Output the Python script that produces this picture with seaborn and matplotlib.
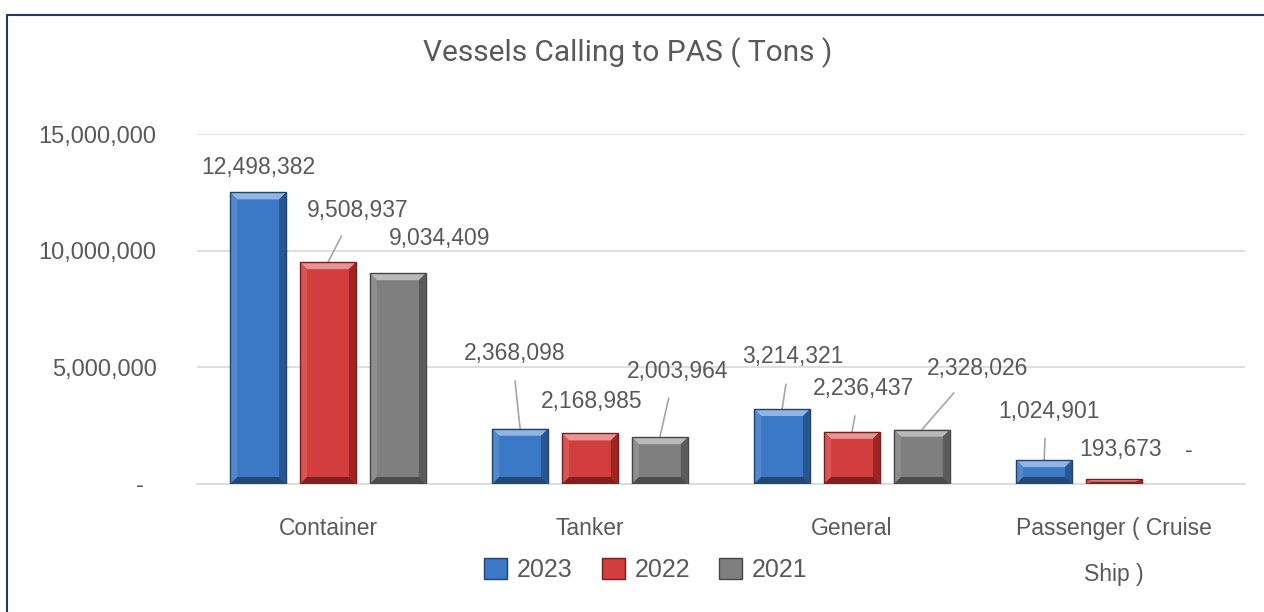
import matplotlib
matplotlib.use("Agg")
import matplotlib.pyplot as plt
import matplotlib.ticker as mticker
from matplotlib.patches import Polygon
from matplotlib.lines import Line2D
import seaborn as sns
import pandas as pd
import colorsys
import matplotlib.colors as mcolors

# ---------------- data ----------------
categories = ["Container", "Tanker", "General", "Passenger ( Cruise\nShip )"]
years = ["2023", "2022", "2021"]
values_2023 = [12498382, 2368098, 3214321, 1024901]
values_2022 = [9508937, 2168985, 2236437, 193673]
values_2021 = [9034409, 2003964, 2328026, 0]
yticks = [0, 5000000, 10000000, 15000000]
title = "Vessels Calling to PAS ( Tons )"

# ---------------- styling ----------------
colors = {"2023": "#3b78c6", "2022": "#d23e3e", "2021": "#7f7f7f"}
text_color = "#595959"
font = "Liberation Sans"

# label offsets in pixels (dx, dy) relative to bar top-centre, and leader flag
label_offsets = {
    "2023": [(0, 25, False), (-5, 75, True), (11, 52, True), (5, 49, True)],
    "2022": [(30, 52, True), (2, 32, False), (11, 43, True), (7, 30, False)],
    "2021": [(42, 35, False), (18, 66, True), (56, 61, True), (5, 34, False)],
}

rows = []
for y, vals in zip(years, [values_2023, values_2022, values_2021]):
    for c, v in zip(categories, vals):
        rows.append({"Category": c, "Year": y, "Tons": v})
df = pd.DataFrame(rows)

sns.set_theme(style="white")
plt.rcParams["font.family"] = [font, "DejaVu Sans"]

W, H = 1264, 612
fig = plt.figure(figsize=(W / 100, H / 100), dpi=100)
ax = fig.add_axes([197 / W, 1 - 484 / H, (1245 - 197) / W, (484 - 134) / H])

sns.barplot(data=df, x="Category", y="Tons", hue="Year", hue_order=years,
            order=categories, palette=colors, gap=0.2, width=0.8,
            saturation=1, ax=ax, legend=True, edgecolor="none")

ax.set_ylim(0, 15000000)
ax.set_xlim(-0.5, len(categories) - 0.5)
ax.set_yticks(yticks)
ax.yaxis.set_major_formatter(mticker.FuncFormatter(
    lambda v, p: "-  " if v == 0 else f"{int(v):,}"))
ax.grid(axis="y", color="#d9d9d9", lw=1.2)
ax.set_axisbelow(True)
for s in ["top", "right", "left"]:
    ax.spines[s].set_visible(False)
ax.spines["bottom"].set_color("#d9d9d9")
ax.spines["bottom"].set_linewidth(1.2)
ax.tick_params(axis="both", length=0, labelcolor=text_color)
ax.tick_params(axis="y", pad=29, labelsize=17)
ax.tick_params(axis="x", pad=23.5, labelsize=16.5)
for t in ax.get_xticklabels():
    t.set_linespacing(2.3)
ax.set_xlabel("")
ax.set_ylabel("")


def shade(hexc, f):
    r, g, b = mcolors.to_rgb(hexc)
    h, l, s = colorsys.rgb_to_hls(r, g, b)
    l = max(0, min(1, l * f if f < 1 else l + (1 - l) * (f - 1)))
    return colorsys.hls_to_rgb(h, l, s)


# bevel effect on bars
fig.canvas.draw()
ax_bbox = ax.get_window_extent()
px_x = ax_bbox.width / (ax.get_xlim()[1] - ax.get_xlim()[0])
px_y = ax_bbox.height / (ax.get_ylim()[1] - ax.get_ylim()[0])
bev = 7
n = len(categories)
bars = [p for p in ax.patches if p.get_width() > 0][: n * len(years)]
for i, p in enumerate(bars):
    yr = years[i // n]
    base = colors[yr]
    x0, w, h = p.get_x(), p.get_width(), p.get_height()
    if h <= 0:
        continue
    bx = bev / px_x
    by = min(bev / px_y, h / 2)
    x1 = x0 + w
    polys = [
        ([(x0, h), (x1, h), (x1 - bx, h - by), (x0 + bx, h - by)], shade(base, 1.45)),
        ([(x0, 0), (x0, h), (x0 + bx, h - by), (x0 + bx, by)], shade(base, 1.12)),
        ([(x1, 0), (x1, h), (x1 - bx, h - by), (x1 - bx, by)], shade(base, 0.72)),
        ([(x0, 0), (x1, 0), (x1 - bx, by), (x0 + bx, by)], shade(base, 0.6)),
    ]
    for pts, col in polys:
        ax.add_patch(Polygon(pts, closed=True, facecolor=col, edgecolor="none", zorder=3))
    p.set_zorder(2.5)
    ax.add_patch(plt.Rectangle((x0, 0), w, h, fill=False, edgecolor=shade(base, 0.55),
                               lw=1.0, zorder=4))

# data labels
for i, p in enumerate(bars):
    yr = years[i // n]
    ci = i % n
    v = [values_2023, values_2022, values_2021][i // n][ci]
    dx, dy, leader = label_offsets[yr][ci]
    txt = "-" if v == 0 else f"{v:,}"
    xc = p.get_x() + p.get_width() / 2
    kw = {}
    if leader:
        kw["arrowprops"] = dict(arrowstyle="-", color="#a6a6a6", lw=1.2,
                                shrinkA=9, shrinkB=0, relpos=(0.47, 0.5))
    ax.annotate(txt, xy=(xc, p.get_height()), xytext=(dx, dy),
                textcoords="offset pixels", ha="center", va="center",
                fontsize=16.5, color=text_color, annotation_clip=False, **kw)

# legend
handles, labels = ax.get_legend_handles_labels()
ax.legend(handles, labels, loc="center", bbox_to_anchor=(646 / W, 1 - 570 / H),
          bbox_transform=fig.transFigure, ncol=3, frameon=False, fontsize=18,
          labelcolor=text_color, handlelength=0.92, handleheight=0.92,
          handletextpad=0.4, columnspacing=1.15)
for hd in ax.get_legend().get_patches():
    fc = hd.get_facecolor()
    hd.set_edgecolor(shade(mcolors.to_hex(fc), 0.55))

# title
fig.text(628 / W, 1 - 53 / H, title, ha="center", va="center", fontsize=21.5,
         color=text_color, family=["Roboto", "DejaVu Sans"])

# border (top and left visible)
fig.add_artist(Line2D([7 / W, 7 / W, 1.0], [0, 1 - 15 / H, 1 - 15 / H],
                      transform=fig.transFigure, color="#1f3864", lw=1.5))

fig.savefig("out.png", dpi=100)
